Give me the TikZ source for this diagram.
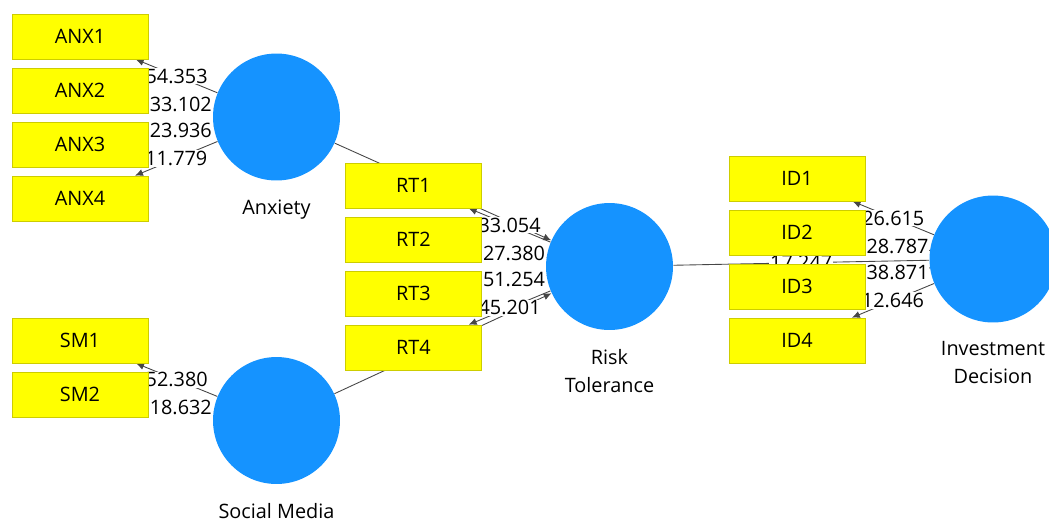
\documentclass[tikz,border=0pt]{standalone}
\usepackage{fontspec}
\setmainfont{Open Sans}
\usetikzlibrary{arrows.meta}
\pgfdeclarelayer{background}
\pgfsetlayers{background,main}
\definecolor{latentblue}{RGB}{21,147,255}
\definecolor{itemyellow}{RGB}{255,255,0}
\definecolor{itemborder}{RGB}{205,205,0}
\definecolor{pathgray}{RGB}{70,70,70}

\begin{document}
\begin{tikzpicture}[x=0.02cm, y=-0.02cm,
		font=\fontsize{11.3}{15.9}\selectfont,
		latent/.style={circle, fill=latentblue, minimum size=2.54cm, inner sep=0pt},
		latentname/.style={inner sep=0pt, yshift=-0.37cm, align=center},
		item/.style={draw=itemborder, fill=itemyellow, minimum width=2.72cm, minimum height=0.9cm, inner sep=0pt, text depth=0pt},
		loading/.style={draw=pathgray, line width=0.5pt, -{Latex[length=4.5pt,width=4pt]}},
		coef/.style={midway, fill=white, inner sep=0.5pt}]
			%%%%% START %%%%%
			\useasboundingbox (0, 0) rectangle (1049, 518);
			
			% constructs
			\node[latent, label={[latentname]below:Anxiety}] (anx) at (276.5, 117) {};
			\node[latent, label={[latentname]below:Social Media}] (sm) at (276.5, 420.5) {};
			\node[latent, label={[latentname]below:Risk\\Tolerance}] (rt) at (609.5, 266.5) {};
			\node[latent, label={[latentname]below:Investment\\Decision}] (id) at (993, 259) {};
			
			% indicators
			\node[item] (anx1) at (80, 36.5) {ANX1};
			\node[item] (anx2) at (80, 90.5) {ANX2};
			\node[item] (anx3) at (80, 144.5) {ANX3};
			\node[item] (anx4) at (80, 198.5) {ANX4};
			
			\node[item] (sm1) at (80, 340.5) {SM1};
			\node[item] (sm2) at (80, 394.5) {SM2};
			
			\node[item] (rt1) at (413.5, 185.5) {RT1};
			\node[item] (rt2) at (413.5, 239.5) {RT2};
			\node[item] (rt3) at (413.5, 293.5) {RT3};
			\node[item] (rt4) at (413.5, 347.5) {RT4};
			
			\node[item] (id1) at (797, 178.5) {ID1};
			\node[item] (id2) at (797, 232.5) {ID2};
			\node[item] (id3) at (797, 286.5) {ID3};
			\node[item] (id4) at (797, 340.5) {ID4};
			
			\begin{pgfonlayer}{background}
				% inner model
				\draw[loading] (anx) -- (rt);
				\draw[loading] (sm) -- (rt);
				\draw[loading, -] (rt) -- node[coef] {17.247} (id);
				
				% outer model
				\draw[loading] (anx) -- node[coef] {54.353} (anx1);
				\draw[loading] (anx) -- node[coef] {33.102} (anx2);
				\draw[loading] (anx) -- node[coef] {23.936} (anx3);
				\draw[loading] (anx) -- node[coef] {11.779} (anx4);
				
				\draw[loading] (sm) -- node[coef] {52.380} (sm1);
				\draw[loading] (sm) -- node[coef] {18.632} (sm2);
				
				\draw[loading] (rt) -- node[coef] {33.054} (rt1);
				\draw[loading] (rt) -- node[coef] {27.380} (rt2);
				\draw[loading] (rt) -- node[coef] {51.254} (rt3);
				\draw[loading] (rt) -- node[coef] {45.201} (rt4);
				
				\draw[loading] (id) -- node[coef] {26.615} (id1);
				\draw[loading] (id) -- node[coef] {28.787} (id2);
				\draw[loading] (id) -- node[coef] {38.871} (id3);
				\draw[loading] (id) -- node[coef] {12.646} (id4);
			\end{pgfonlayer}
			%%%%% END %%%%%
		\end{tikzpicture}
\end{document}
